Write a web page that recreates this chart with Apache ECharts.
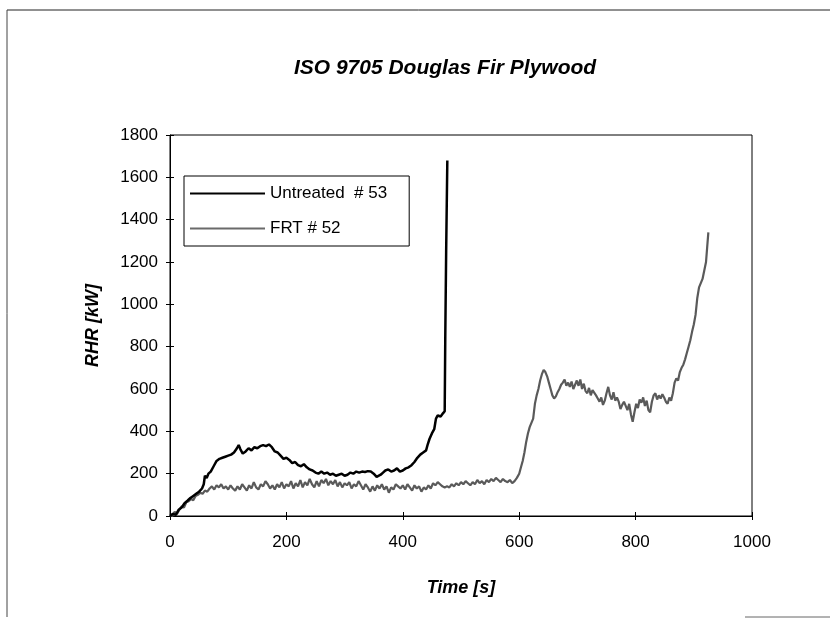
<!DOCTYPE html>
<html>
<head>
<meta charset="utf-8">
<script src="https://cdn.jsdelivr.net/npm/echarts@6/dist/echarts.min.js"></script>
<style>
  html, body { margin: 0; padding: 0; background: #fff; }
  #main { width: 830px; height: 618px; }
</style>
</head>
<body>
<div id="main"></div>
<script>
// Untreated # 53, time [s] / RHR [kW]
const untreatedTime = [
  0, 5, 10, 15, 20, 25, 30, 35, 40, 45, 50, 55,
  58, 60, 63, 66, 70,
  75, 80, 85, 90, 95, 100, 105, 110, 115,
  118, 121, 125,
  130, 135, 140, 145, 150, 155, 160, 165, 170, 175,
  180, 185, 190, 195, 200, 205, 210, 215, 220, 225,
  230, 235, 240, 245, 250, 255, 260, 265, 270, 275,
  280, 285, 290, 295, 300, 305, 310, 315, 320, 325,
  330, 335, 340, 345, 350, 355,
  358, 362, 366, 370,
  375, 380, 385, 390, 395, 400, 405, 410, 415, 420, 425, 430, 435, 440,
  443, 446, 450, 454, 457, 460, 465, 469, 472, 473, 474.5, 476.5
];
const untreatedRhr = [
  0, 10, 5, 30, 40, 60, 72, 85, 95, 105, 115, 130,
  150, 190, 180, 200, 210,
  235, 260, 270, 275, 280, 285, 290, 300, 320,
  335, 315, 295,
  305, 320, 310, 325, 320, 330, 335, 330, 338, 325,
  305, 300, 285, 270, 275, 265, 250, 255, 240, 235,
  245, 230, 220, 215, 205, 200, 210, 200, 205, 195,
  200, 190, 195, 200, 190, 195, 205, 200, 210, 205,
  210, 208, 212, 210, 200, 185,
  180, 195, 205, 215,
  220, 210, 215, 225, 210, 215, 225, 230, 240, 255, 275, 290, 300, 310,
  340, 365, 390, 410, 460, 475, 470, 485, 495, 850, 1250, 1680
];

// FRT # 52, time [s] / RHR [kW]
const frtTime = [
  0, 4, 8, 12, 16, 20, 24, 28, 32, 36,
  40, 44, 48, 52, 56, 60, 64, 68, 72, 76,
  80, 84, 88, 92, 96, 100, 104, 108, 112, 116,
  120, 124, 128, 132, 136, 140, 144, 148, 152, 156,
  160, 164, 168, 172, 176, 180, 184, 188, 192, 196,
  200, 204, 208, 212, 216, 220, 224, 228, 232, 236,
  240, 244, 248, 252, 256, 260, 264, 268, 272, 276,
  280, 284, 288, 292, 296, 300, 304, 308, 312, 316,
  320, 324, 328, 332, 336, 340, 344, 348, 352, 356,
  360, 364, 368, 372, 376, 380, 384, 388, 392, 396,
  400, 404, 408, 412, 416, 420, 424, 428, 432, 436,
  440, 444, 448, 452, 456, 460, 464, 468, 472, 476,
  480, 484, 488, 492, 496, 500, 504, 508, 512, 516,
  520, 524, 528, 532, 536, 540, 544, 548, 552, 556,
  560, 564, 568, 572, 576, 580, 584, 588, 592, 596,
  600, 603, 606, 609, 612, 615, 618, 621, 624, 627,
  630, 633, 636, 639, 642, 645, 648, 651, 654, 657,
  660, 663, 666, 669, 672, 675, 678, 681, 684, 687,
  690, 693, 696, 699, 702, 705, 708, 711, 714, 717,
  720, 723, 726, 729, 732, 735, 738, 741, 744, 747,
  750, 753, 756, 759, 762, 765, 768, 771, 774, 777,
  780, 783, 786, 789, 792, 795, 798, 801, 804, 807,
  810, 813, 816, 819, 822, 825, 828, 831, 834, 837,
  840, 843, 846, 849, 852, 855, 858, 861, 864, 867,
  870, 873, 876, 879, 882, 885, 888, 891, 894, 897,
  900, 903, 906, 909, 912, 915, 918, 921, 923, 925
];
const frtRhr = [
  5, 0, 20, 10, 30, 45, 40, 65, 70, 80,
  75, 95, 100, 110, 105, 120, 115, 130, 140, 125,
  145, 135, 150, 130, 140, 125, 145, 130, 120, 140,
  125, 150, 135, 120, 145, 130, 160, 135, 125, 150,
  140, 165, 150, 130, 145, 125, 150, 135, 160, 130,
  150, 140, 165, 130, 155, 140, 170, 135, 160, 145,
  175, 150, 135, 165, 140, 170, 155, 175, 145, 165,
  150, 170, 140, 160, 135, 155, 145, 160, 130, 150,
  140, 165, 145, 125, 150, 135, 115, 140, 120, 145,
  130, 150, 125, 140, 110, 135, 125, 150, 140, 130,
  145, 125, 150, 135, 120, 145, 130, 140, 115, 135,
  125, 145, 130, 155, 145, 160, 150, 140, 135, 140,
  135, 150, 140, 155, 145, 160, 150, 165, 155, 145,
  160, 150, 170, 155, 165, 150, 170, 160, 175, 165,
  180, 170, 160, 175, 165, 160, 170, 155, 165, 180,
  200, 230, 260, 300, 350, 390, 420, 440, 460, 530,
  570, 600, 640, 670, 690, 680, 660, 630, 600, 570,
  555, 565, 585, 600, 620, 630, 645, 615, 630, 610,
  635, 600, 620, 640, 615, 645, 600, 625, 590, 580,
  605, 570, 595, 600, 570, 555, 540, 560, 525, 545,
  580, 610, 570, 550, 585, 545, 560, 540, 505, 525,
  540, 520, 500, 530, 480, 445, 490, 530, 510, 550,
  535, 560, 520, 545, 500, 490, 540, 570, 580, 550,
  570, 555, 575, 560, 540, 530, 560, 545, 580, 630,
  650, 640, 680, 700, 715, 740, 770, 800, 830, 870,
  905, 950, 1030, 1080, 1100, 1120, 1160, 1200, 1270, 1340
];

const xTicks = [0, 200, 400, 600, 800, 1000];
const yTicks = [0, 200, 400, 600, 800, 1000, 1200, 1400, 1600, 1800];

const untreatedData = untreatedTime.map((t, i) => [t, untreatedRhr[i]]);
const frtData = frtTime.map((t, i) => [t, frtRhr[i]]);

const font = '"Liberation Sans", Arial, sans-serif';
const chart = echarts.init(document.getElementById('main'));

const option = {
  backgroundColor: '#fff',
  animation: false,
  title: {
    text: 'ISO 9705 Douglas Fir Plywood',
    left: 440,
    top: 53,
    textAlign: 'center',
    textStyle: { fontFamily: font, fontSize: 21, fontWeight: 'bold', fontStyle: 'italic', color: '#000' }
  },
  grid: {
    left: 170, right: 78, top: 135, bottom: 102,
    show: true, borderColor: '#000', borderWidth: 1
  },
  legend: {
    orient: 'vertical',
    left: 184, top: 176,
    padding: [9, 22, 9, 6],
    itemGap: 18,
    itemWidth: 75,
    itemHeight: 2,
    icon: 'rect',
    borderColor: '#000',
    borderWidth: 1,
    textStyle: { fontFamily: font, fontSize: 17, color: '#000', lineHeight: 17 },
    data: ['Untreated  # 53', 'FRT # 52']
  },
  xAxis: [{
    type: 'value',
    min: xTicks[0], max: xTicks[xTicks.length - 1], interval: 200,
    name: 'Time [s]',
    nameLocation: 'middle',
    nameGap: 63,
    nameTextStyle: { fontFamily: font, fontSize: 18, fontWeight: 'bold', fontStyle: 'italic', color: '#000' },
    axisLine: { lineStyle: { color: '#000', width: 1 } },
    axisTick: { length: 4, lineStyle: { color: '#000' } },
    axisLabel: { fontFamily: font, fontSize: 17, color: '#000', margin: 18, formatter: v => String(v) },
    splitLine: { show: false }
  }, {
    type: 'value', position: 'bottom',
    min: xTicks[0], max: xTicks[xTicks.length - 1], interval: 200,
    axisLine: { show: false },
    axisTick: { inside: true, length: 4, lineStyle: { color: '#000' } },
    axisLabel: { show: false },
    splitLine: { show: false }
  }],
  yAxis: [{
    type: 'value',
    min: yTicks[0], max: yTicks[yTicks.length - 1], interval: 200,
    name: 'RHR [kW]',
    nameLocation: 'middle',
    nameGap: 68,
    nameTextStyle: { fontFamily: font, fontSize: 18, fontWeight: 'bold', fontStyle: 'italic', color: '#000' },
    axisLine: { show: true, lineStyle: { color: '#000', width: 1 } },
    axisTick: { show: true, length: 4, lineStyle: { color: '#000' } },
    axisLabel: { fontFamily: font, fontSize: 17, color: '#000', margin: 12, formatter: v => String(v) },
    splitLine: { show: false }
  }, {
    type: 'value', position: 'left',
    min: yTicks[0], max: yTicks[yTicks.length - 1], interval: 200,
    axisLine: { show: false },
    axisTick: { show: true, inside: true, length: 4, lineStyle: { color: '#000' } },
    axisLabel: { show: false },
    splitLine: { show: false }
  }],
  series: [{
    name: 'Untreated  # 53',
    type: 'line',
    symbol: 'none',
    data: untreatedData,
    lineStyle: { color: '#000', width: 2.5 },
    itemStyle: { color: '#000' },
    z: 3
  }, {
    name: 'FRT # 52',
    type: 'line',
    symbol: 'none',
    data: frtData,
    lineStyle: { color: '#5a5a5a', width: 2.2 },
    itemStyle: { color: '#6a6a6a' },
    z: 2
  }],
  graphic: [
    { type: 'line', shape: { x1: 7, y1: 10, x2: 830, y2: 10 }, style: { stroke: '#222', lineWidth: 1 } },
    { type: 'line', shape: { x1: 7, y1: 10, x2: 7, y2: 617 }, style: { stroke: '#444', lineWidth: 1 } },
    { type: 'line', shape: { x1: 745, y1: 617, x2: 830, y2: 617 }, style: { stroke: '#666', lineWidth: 1 } }
  ]
};

chart.setOption(option);
</script>
</body>
</html>
